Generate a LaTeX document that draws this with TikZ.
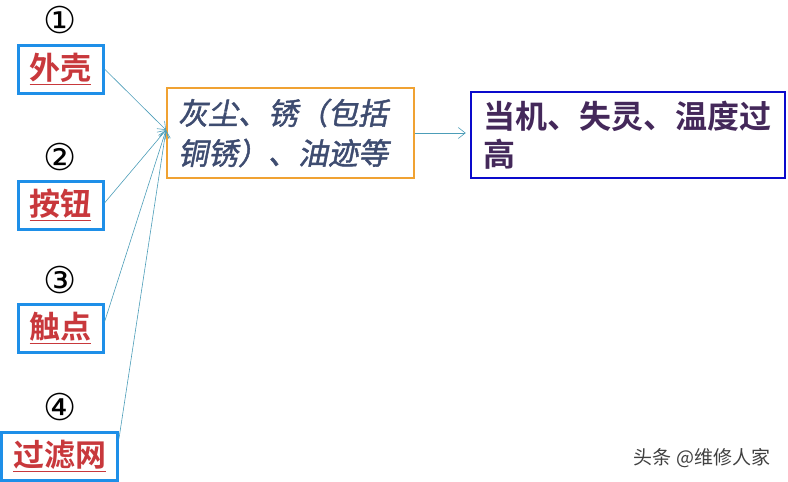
\documentclass[tikz,border=0pt]{standalone}
\usepackage{fontspec}
\usepackage{tikz}
\usetikzlibrary{arrows.meta}
\newfontfamily\cjk{Noto Sans CJK SC}
\newfontfamily\cjkbf{Noto Sans CJK SC Bold}
\newfontfamily\cjkit[FakeSlant=0.2,FakeBold=1.5]{Noto Sans CJK SC}
\newfontfamily\circfont{DejaVu Sans}
\definecolor{partred}{HTML}{C8383C}
\definecolor{partblue}{HTML}{1E8FE8}
\definecolor{causeorange}{HTML}{F0A232}
\definecolor{causetext}{HTML}{3E4C70}
\definecolor{faultblue}{HTML}{0A0ACC}
\definecolor{faulttext}{HTML}{44285A}
\definecolor{feedline}{HTML}{4C9DB8}

\begin{document}
\begin{tikzpicture}[x=1pt,y=-1pt,
        partbox/.style={draw=partblue,line width=3pt,fill=white,inner sep=0pt,
            minimum width=85pt,minimum height=48pt,text=partred,
            font=\cjkbf\fontsize{31}{34}\selectfont},
        numlabel/.style={font=\circfont\fontsize{37}{40}\selectfont,inner sep=0pt},
        causebox/.style={draw=causeorange,line width=2pt,text width=225pt,align=left,
            inner xsep=11pt,inner ysep=0pt,minimum height=90pt,text=causetext,
            font=\cjkit\fontsize{30}{40}\selectfont},
        faultbox/.style={draw=faultblue,line width=2.5pt,text width=290pt,align=left,
            inner xsep=12pt,inner ysep=0pt,minimum height=86pt,text=faulttext,
            font=\cjkbf\fontsize{32}{38}\selectfont},
        feed/.style={draw=feedline,line width=0.6pt,-{Straight Barb[length=7pt,width=11pt]}}]

    \useasboundingbox (0,0) rectangle (788,482);

    % left column: parts
    \node[numlabel] (n1) at (60,20) {①};
    \node[partbox] (waike) at (60.5,69) {\underline{外壳}};
    \node[numlabel] (n2) at (60,157) {②};
    \node[partbox] (anniu) at (60.5,205) {\underline{按钮}};
    \node[numlabel] (n3) at (60,280) {③};
    \node[partbox] (chudian) at (60.5,328) {\underline{触点}};
    \node[numlabel] (n4) at (60,407) {④};
    \node[partbox,minimum width=116pt] (guolv) at (59.5,456) {\underline{过滤网}};

    % cause and fault
    \node[causebox] (cause) at (290.5,133) {灰尘、锈（包括\\铜锈）、油迹等};
    \node[faultbox] (fault) at (628,135) {当机、失灵、温度过\\高};
    \coordinate (hub) at ([yshift=3pt]cause.west);

    \draw[feed] (waike.east) -- (hub);
    \draw[feed] ([yshift=2pt]anniu.east) -- (hub);
    \draw[feed] ([yshift=6pt]chudian.east) -- (hub);
    \draw[feed] ([yshift=-8pt]guolv.north east) -- (hub);
    \draw[feed,shorten >=4pt] (cause.east) -- (fault.west |- cause.east);

    % watermark
    \node[font=\cjk\fontsize{19}{22}\selectfont,text=black!75] (mark) at (702,458) {头条 @维修人家};
\end{tikzpicture}
\end{document}
